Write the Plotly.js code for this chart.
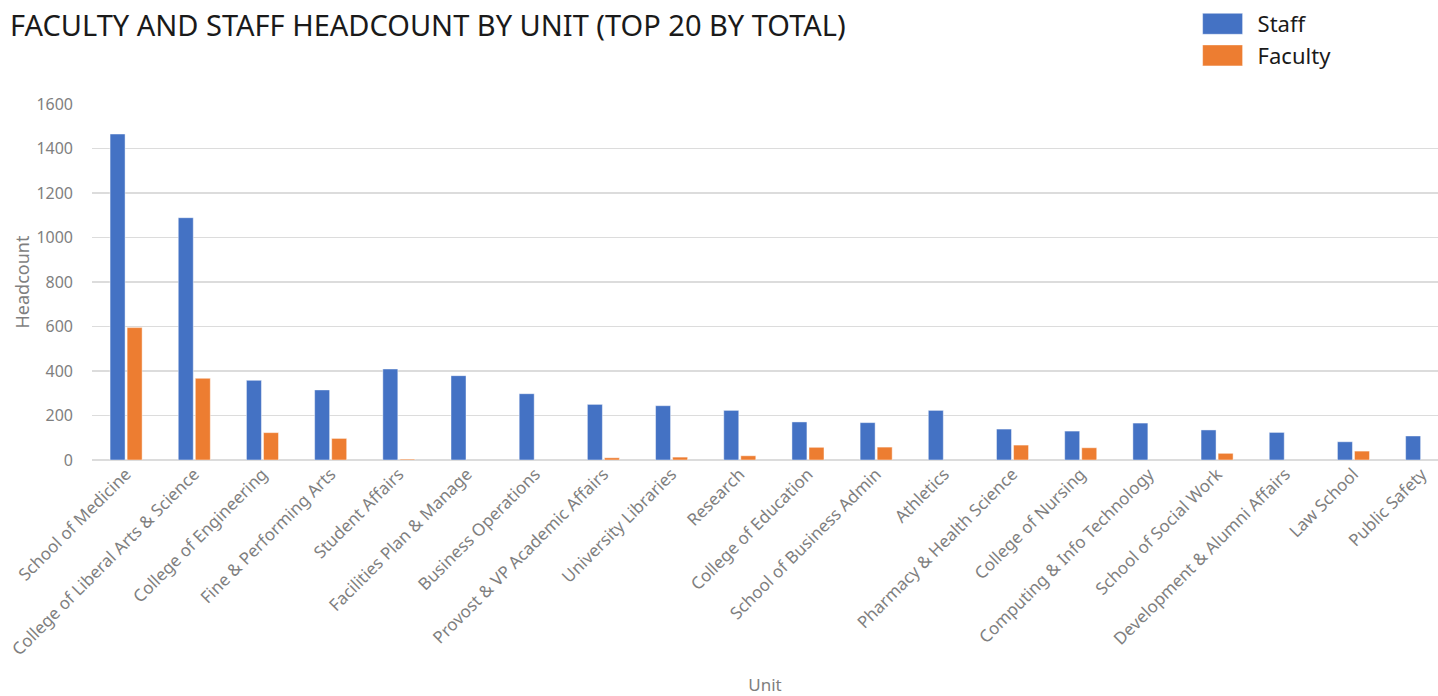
<!DOCTYPE html>
<html>
<head>
<meta charset="utf-8">
<script src="https://cdn.plot.ly/plotly-3.0.1.min.js"></script>
<style>
  html, body { margin: 0; padding: 0; background: #ffffff; overflow: hidden; }
  #chart { width: 1438px; height: 696px; }
</style>
</head>
<body>
<div id="chart"></div>
<script>
const units = [
  "School of Medicine",
  "College of Liberal Arts & Science",
  "College of Engineering",
  "Fine & Performing Arts",
  "Student Affairs",
  "Facilities Plan & Manage",
  "Business Operations",
  "Provost & VP Academic Affairs",
  "University Libraries",
  "Research",
  "College of Education",
  "School of Business Admin",
  "Athletics",
  "Pharmacy & Health Science",
  "College of Nursing",
  "Computing & Info Technology",
  "School of Social Work",
  "Development & Alumni Affairs",
  "Law School",
  "Public Safety"
];
const staff = [1465, 1089, 358, 315, 409, 379, 298, 250, 244, 223, 171, 168, 223, 139, 130, 166, 135, 124, 82, 108];
const faculty = [595, 367, 123, 97, 4, null, null, 10, 13, 19, 57, 58, null, 67, 55, null, 30, null, 40, null];
const yTicks = [0, 200, 400, 600, 800, 1000, 1200, 1400, 1600];

const FONT = "'Noto Sans', 'Open Sans', sans-serif";
const GRAY = "#7f7f7f";

const traces = [
  {
    type: "bar", name: "Staff", x: units, y: staff,
    marker: { color: "#4472c4", line: { color: "rgba(255,255,255,0.45)", width: 1 } }
  },
  {
    type: "bar", name: "Faculty", x: units, y: faculty,
    marker: { color: "#ed7d31", line: { color: "rgba(255,255,255,0.45)", width: 1 } }
  }
];

const layout = {
  width: 1438, height: 696,
  paper_bgcolor: "#ffffff", plot_bgcolor: "#ffffff",
  margin: { l: 92, r: 0, t: 104, b: 236 },
  font: { family: FONT, color: GRAY },
  title: {
    text: "FACULTY AND STAFF HEADCOUNT BY UNIT (TOP 20 BY TOTAL)",
    font: { family: FONT, size: 29, color: "#1a1a1a" },
    x: 0.007, xanchor: "left", xref: "container",
    y: 0.963, yanchor: "middle", yref: "container"
  },
  barmode: "group",
  bargap: 0.5,
  bargroupgap: 0.12,
  showlegend: true,
  legend: {
    x: 0.8214, xref: "paper", xanchor: "left",
    y: 0.9957, yref: "container", yanchor: "top",
    font: { family: FONT, size: 22, color: "#1a1a1a" },
    bgcolor: "rgba(0,0,0,0)",
    itemwidth: 50,
    tracegroupgap: 0
  },
  xaxis: {
    type: "category",
    range: [-0.5, 19.24],
    tickangle: -45,
    tickfont: { family: FONT, size: 17, color: GRAY },
    showgrid: false, zeroline: false, showline: false, ticks: "",
    automargin: false,
    title: { text: "Unit", font: { family: FONT, size: 17, color: GRAY }, standoff: 22 }
  },
  yaxis: {
    range: [0, 1600],
    tickvals: yTicks,
    tickfont: { family: FONT, size: 16, color: GRAY },
    showgrid: true, gridcolor: "#dcdcdc", gridwidth: 1.5,
    zeroline: true, zerolinecolor: "#dcdcdc", zerolinewidth: 1.5,
    showline: false, ticks: "", ticklabelstandoff: 18,
    automargin: false,
    title: { text: "Headcount", font: { family: FONT, size: 18, color: GRAY }, standoff: 2 }
  }
};

Plotly.newPlot("chart", traces, layout, { staticPlot: true, displayModeBar: false }).then(function () {
  // enlarge the legend swatches to match the reference's wide colour blocks
  document.querySelectorAll("#chart .legend .legendpoints path").forEach(function (p) {
    p.setAttribute("d", "M-25,-10.5H15V10.5H-25Z");
  });
});
</script>
</body>
</html>
